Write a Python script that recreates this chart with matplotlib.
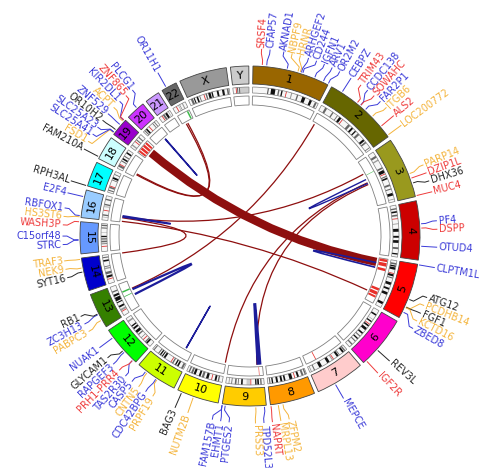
import numpy as np
import matplotlib
matplotlib.use("Agg")
import matplotlib.pyplot as plt
from matplotlib.patches import Wedge, PathPatch
from matplotlib.path import Path


chroms = ["1", "2", "3", "4", "5", "6", "7", "8", "9", "10", "11", "12",
          "13", "14", "15", "16", "17", "18", "19", "20", "21", "22", "X", "Y"]
chrom_len = [249, 243, 198, 191, 181, 171, 159, 146, 141, 136, 135, 134,
             115, 107, 103, 90, 81, 78, 59, 63, 48, 51, 155, 59]
chrom_colors = ["#996600", "#666600", "#99991E", "#CC0000", "#FF0000", "#FF00CC",
                "#FFCCCC", "#FF9900", "#FFCC00", "#FFFF00", "#CCFF00", "#00FF00",
                "#358000", "#0000CC", "#6699FF", "#99CCFF", "#00FFFF", "#CCFFFF",
                "#9900CC", "#CC33FF", "#CC99FF", "#666666", "#999999", "#CCCCCC"]
centromeres = [125, 93, 91, 50, 48, 60, 60, 45, 49, 40, 53, 35,
               17, 17, 19, 36, 24, 17, 26, 28, 13, 14, 60, 12]

# dark cytobands (start Mb, end Mb, stain %)
bands = {
    "1": [(56, 59, 100), (68, 84, 100), (94, 99, 75), (106, 111, 100), (143, 147, 50),
          (165, 170, 75), (186, 198, 100), (215, 224, 100), (236, 243, 75)],
    "2": [(16, 24, 75), (47, 52, 75), (68, 71, 75), (78, 87, 100), (120, 129, 75),
          (137, 144, 100), (154, 159, 100), (168, 176, 75), (197, 205, 100), (209, 215, 75), (234, 237, 75)],
    "3": [(16, 24, 75), (32, 37, 50), (64, 70, 75), (75, 87, 100), (99, 103, 75),
          (106, 112, 100), (132, 139, 75), (148, 152, 75), (165, 175, 100), (187, 190, 50)],
    "4": [(11, 16, 75), (22, 28, 100), (35, 41, 75), (68, 70, 75), (87, 98, 100),
          (113, 120, 100), (129, 139, 100), (155, 162, 75), (177, 182, 100)],
    "5": [(9, 15, 75), (18, 23, 100), (25, 34, 100), (51, 59, 100), (63, 67, 75),
          (82, 92, 100), (103, 110, 100), (120, 130, 100), (159, 168, 100)],
    "6": [(16, 22, 100), (38, 40, 50), (46, 51, 100), (64, 70, 100), (77, 87, 100),
          (99, 105, 100), (114, 118, 75), (126, 131, 100), (139, 143, 75), (155, 160, 75)],
    "7": [(6, 11, 75), (13, 20, 100), (32, 35, 75), (37, 45, 100), (63, 67, 50),
          (77, 87, 100), (109, 120, 100), (138, 142, 75), (151, 154, 50)],
    "8": [(2, 7, 75), (12, 19, 75), (29, 36, 100), (54, 65, 100), (80, 86, 100),
          (92, 99, 100), (108, 115, 100), (126, 131, 100), (136, 140, 75)],
    "9": [(9, 14, 75), (19, 25, 100), (28, 33, 100), (52, 65, 25), (79, 85, 100),
          (94, 97, 75), (102, 108, 75), (118, 121, 75), (128, 131, 50)],
    "10": [(12, 17, 75), (22, 29, 100), (52, 61, 100), (69, 77, 75), (82, 89, 100),
           (101, 109, 100), (112, 119, 75), (124, 129, 75)],
    "11": [(3, 10, 75), (21, 27, 100), (31, 36, 100), (43, 48, 75), (78, 85, 100),
           (89, 93, 100), (97, 102, 100), (106, 110, 75), (127, 131, 75)],
    "12": [(14, 20, 100), (21, 26, 75), (44, 46, 75), (58, 63, 75), (68, 78, 100),
           (85, 92, 100), (97, 102, 100), (118, 124, 50)],
    "13": [(20, 27, 50), (33, 40, 100), (51, 55, 100), (59, 73, 100), (77, 85, 100), (93, 98, 75)],
    "14": [(23, 31, 100), (36, 45, 75), (55, 60, 50), (63, 66, 75), (83, 89, 100), (96, 100, 75)],
    "15": [(27, 30, 75), (34, 40, 75), (44, 49, 75), (53, 58, 100), (71, 72, 75), (85, 89, 75), (94, 99, 75)],
    "16": [(10, 12, 50), (16, 21, 75), (47, 53, 25), (55, 60, 75), (74, 79, 75)],
    "17": [(6, 10, 75), (16, 22, 75), (46, 49, 75), (52, 59, 100), (68, 71, 75)],
    "18": [(7, 15, 75), (29, 33, 75), (37, 43, 100), (49, 53, 75), (63, 69, 100)],
    "19": [(7, 12, 50), (32, 36, 75), (44, 48, 75)],
    "20": [(5, 9, 75), (12, 18, 100), (44, 47, 75), (52, 55, 75)],
    "21": [(17, 24, 75), (27, 35, 100), (40, 42, 50)],
    "22": [(22, 24, 50), (27, 29, 75), (37, 41, 50)],
    "X": [(9, 17, 75), (20, 24, 100), (31, 37, 100), (42, 45, 75), (66, 71, 75), (76, 85, 100),
          (88, 93, 100), (108, 115, 100), (128, 136, 100), (146, 152, 75)],
    "Y": [(15, 19, 75), (22, 27, 75), (28, 59, 25)],
}

# inner track marks (chrom, start Mb, end Mb, colour key)
marks = [
    ("5", 2, 12, "r"), ("5", 16, 30, "r"), ("5", 38, 48, "r"),
    ("5", 118, 128, "r"), ("5", 133, 146, "r"), ("5", 150, 158, "r"),
    ("19", 4, 12, "r"), ("19", 16, 26, "r"), ("19", 30, 40, "r"), ("19", 44, 52, "r"),
    ("7", 116, 119, "r"), ("9", 15, 17, "r"),
    ("3", 62, 64, "g"), ("13", 60, 63, "g"), ("13", 78, 84, "g"), ("22", 40, 46, "g"),
]

# links (chrom A, Mb A, chrom B, Mb B, colour key, line width)
links = [
    ("19", 32, "5", 19, "r", 6.0),
    ("22", 15, "18", 16, "r", 0.9),
    ("22", 22, "18", 12, "r", 0.9),
    ("13", 80, "2", 12, "r", 0.9),
    ("16", 3, "5", 144, "r", 0.9),
    ("3", 54, "16", 23, "r", 0.9),
    ("3", 94, "10", 2, "r", 0.9),
    ("3", 102, "9", 23, "r", 0.9),
    ("14", 106, "16", 18, "r", 0.9),
    ("20", 42, "20", 44, "b", 1.0),
    ("13", 52, "13", 75, "b", 1.6),
    ("11", 29, "11", 30, "b", 1.0),
    ("9", 9, "9", 19, "b", 1.8),
    ("5", 22, "5", 42, "b", 1.2),
    ("3", 79, "3", 97, "b", 1.0),
    ("16", 21, "16", 27, "b", 1.0),
]

gene_names = ["SRSF4", "CFAP57", "AKNAD1", "NBPF9", "HRNR", "ARHGEF2", "CD244", "IGFN1",
              "ARV1", "OR2M2", "CEBPZ", "TRIM43", "CCDC138", "SOWAHC", "FAR2P1", "ITGB6",
              "ALS2", "LOC200772", "PARP14", "DZIP1L", "DHX36", "MUC4", "PF4", "DSPP",
              "OTUD4", "CLPTM1L", "ATG12", "PCDHB14", "FGF1", "KCTD16", "ZBED8", "REV3L",
              "IGF2R", "MEPCE", "ZFPM2", "MRPL13", "NAPRT", "TPD52L3", "PRSS3", "PTGES2",
              "EHMT1", "FAM157B", "NUTM2B", "BAG3", "PRPF19", "CDC42BPG", "CNTN5", "CASP5",
              "TAS2R30", "PRH1-PRR4", "RAPGEF3", "GLYCAM1", "NUAK1", "PABPC3", "ZC3H13", "RB1",
              "SYT16", "NEK9", "TRAF3", "STRC", "C15orf48", "WASH3P", "HS3ST6", "RBFOX1",
              "E2F4", "RPH3AL", "FAM210A", "FSD1", "SLC25A41", "SLC25A23", "OR10H2", "ZNF529",
              "ACPT", "KIR2DL1", "ZNF865", "PLCG1", "OR11H1"]
gene_chroms = ["1"] * 10 + ["2"] * 8 + ["3"] * 4 + ["4"] * 3 + ["5"] * 6 + ["6"] * 2 + ["7"] \
    + ["8"] * 3 + ["9"] * 5 + ["10"] * 2 + ["11"] * 4 + ["12"] * 5 + ["13"] * 3 + ["14"] * 3 \
    + ["15"] * 3 + ["16"] * 3 + ["17"] + ["18"] + ["19"] * 8 + ["20"] + ["22"]
gene_pos = [29.5, 43.6, 109.4, 144.6, 152.2, 155.9, 160.8, 201.2, 231.1, 248.3,
            37.4, 96.2, 109.4, 110.4, 130.3, 161.0, 202.6, 238.0,
            122.4, 137.8, 154.0, 195.5,
            74.8, 88.5, 146.1,
            1.3, 115.2, 140.6, 142.0, 143.6, 159.8,
            111.6, 160.4,
            100.0,
            106.3, 121.4, 144.6,
            6.3, 33.7, 130.9, 140.5, 141.1,
            81.4, 121.4,
            60.7, 64.6, 99.0, 104.9,
            11.2, 11.3, 48.1, 54.4, 106.5,
            25.7, 46.5, 48.9,
            62.5, 75.5, 103.3,
            43.9, 45.7, 102.5,
            2.0, 6.0, 67.2,
            0.1,
            5.7,
            4.3, 6.40, 6.45, 15.8, 37.0, 51.3, 55.3, 56.3,
            39.8,
            16.4]
gene_groups = [
    "red", "blue", "blue", "orange", "orange", "blue", "blue", "blue", "blue", "blue",
    "blue", "red", "blue", "red", "blue", "orange", "red", "orange",
    "orange", "red", "black", "red",
    "blue", "red", "blue",
    "blue", "black", "orange", "black", "orange", "blue",
    "black", "red",
    "blue",
    "orange", "orange", "red",
    "blue", "orange", "blue", "blue", "blue",
    "orange", "black",
    "orange", "blue", "orange", "blue",
    "blue", "red", "blue", "black", "blue",
    "orange", "blue", "black",
    "black", "orange", "orange",
    "blue", "blue", "red",
    "orange", "blue", "blue",
    "black",
    "black",
    "orange", "blue", "blue", "black", "blue", "orange", "blue", "red",
    "blue",
    "blue",
]

label_cols = {"red": "#EE3B3B", "blue": "#3A3AD8", "orange": "#F4B43C", "black": "#262626"}
link_cols = {"r": "#8E0F0F", "b": "#1C1C9A"}
mark_cols = {"r": "#E8302A", "g": "#3DBA4A"}
stain_cols = {100: "#111111", 75: "#666666", 50: "#999999", 25: "#CCCCCC"}

W, H = 495, 468
CX, CY = 250, 232
GAP = 1.4
SCALE = (360 - GAP * len(chroms)) / sum(chrom_len)
starts = {}
a = 1.0
for c, ln in zip(chroms, chrom_len):
    starts[c] = a
    a += ln * SCALE + GAP


def ang(c, mb):
    return starts[c] + mb * SCALE


def xy(a, r):
    t = np.radians(a)
    return CX + r * np.sin(t), CY + r * np.cos(t)


def arc(ax, a0, a1, r_in, r_out, **kw):
    ax.add_patch(Wedge((CX, CY), r_out, 90 - a1, 90 - a0, width=r_out - r_in, **kw))


fig = plt.figure(figsize=(4.95, 4.68), dpi=100)
ax = fig.add_axes([0, 0, 1, 1])
ax.set_xlim(0, W)
ax.set_ylim(0, H)
ax.set_aspect("equal")
ax.axis("off")

for c, ln, col, cen in zip(chroms, chrom_len, chrom_colors, centromeres):
    a0, a1 = ang(c, 0), ang(c, ln)
    arc(ax, a0, a1, 152, 170, facecolor=col, edgecolor="#444444", lw=0.6)
    am = (a0 + a1) / 2
    rot = -am + 180 if 90 < am < 270 else -am
    ax.text(*xy(am, 161), c, rotation=rot, rotation_mode="anchor",
            ha="center", va="center", fontsize=8, color="black")
    # ideogram
    arc(ax, a0, a1, 143, 149, facecolor="#F7F7F7", edgecolor="none")
    for s, e, st in bands[c]:
        arc(ax, ang(c, s), ang(c, e), 143, 149, facecolor=stain_cols[st], edgecolor="none")
    arc(ax, ang(c, cen - 1.5), ang(c, cen + 1.5), 143, 149, facecolor="#E03030", edgecolor="none")
    arc(ax, a0, a1, 143, 149, facecolor="none", edgecolor="#808080", lw=0.5)
    # empty track box
    arc(ax, a0, a1, 131, 140, facecolor="white", edgecolor="#808080", lw=0.6)

for c, s, e, k in marks:
    arc(ax, ang(c, s), ang(c, e), 131.5, 139.5, facecolor=mark_cols[k], edgecolor="none")

R_LINK = 129
for c1, p1, c2, p2, k, lw in links:
    P1 = xy(ang(c1, p1), R_LINK)
    P2 = xy(ang(c2, p2), R_LINK)
    path = Path([P1, (CX, CY), P2], [Path.MOVETO, Path.CURVE3, Path.CURVE3])
    ax.add_patch(PathPatch(path, facecolor="none", edgecolor=link_cols[k], lw=lw,
                           capstyle="butt"))

# gene labels, spread so they do not overlap
g_ang = np.array([ang(c, p) for c, p in zip(gene_chroms, gene_pos)])
order = np.argsort(g_ang, kind="stable")
lab = g_ang[order].copy()
MIN_SEP = 2.6
for _ in range(800):
    for i in range(len(lab) - 1):
        d = lab[i + 1] - lab[i]
        if d < MIN_SEP:
            lab[i] -= (MIN_SEP - d) / 2
            lab[i + 1] += (MIN_SEP - d) / 2

for j, i in enumerate(order):
    a0, a1 = g_ang[i], lab[j]
    col = label_cols[gene_groups[i]]
    pts = [xy(a0, 172), xy(a0, 176), xy(a1, 183), xy(a1, 187)]
    ax.plot([p[0] for p in pts], [p[1] for p in pts], color=col, lw=0.7)
    if a1 < 180:
        rot, ha = 90 - a1, "left"
    else:
        rot, ha = 270 - a1, "right"
    ax.text(*xy(a1, 189), gene_names[i], rotation=rot, rotation_mode="anchor",
            ha=ha, va="center", fontsize=7, color=col)

fig.savefig("out.png", dpi=100)
